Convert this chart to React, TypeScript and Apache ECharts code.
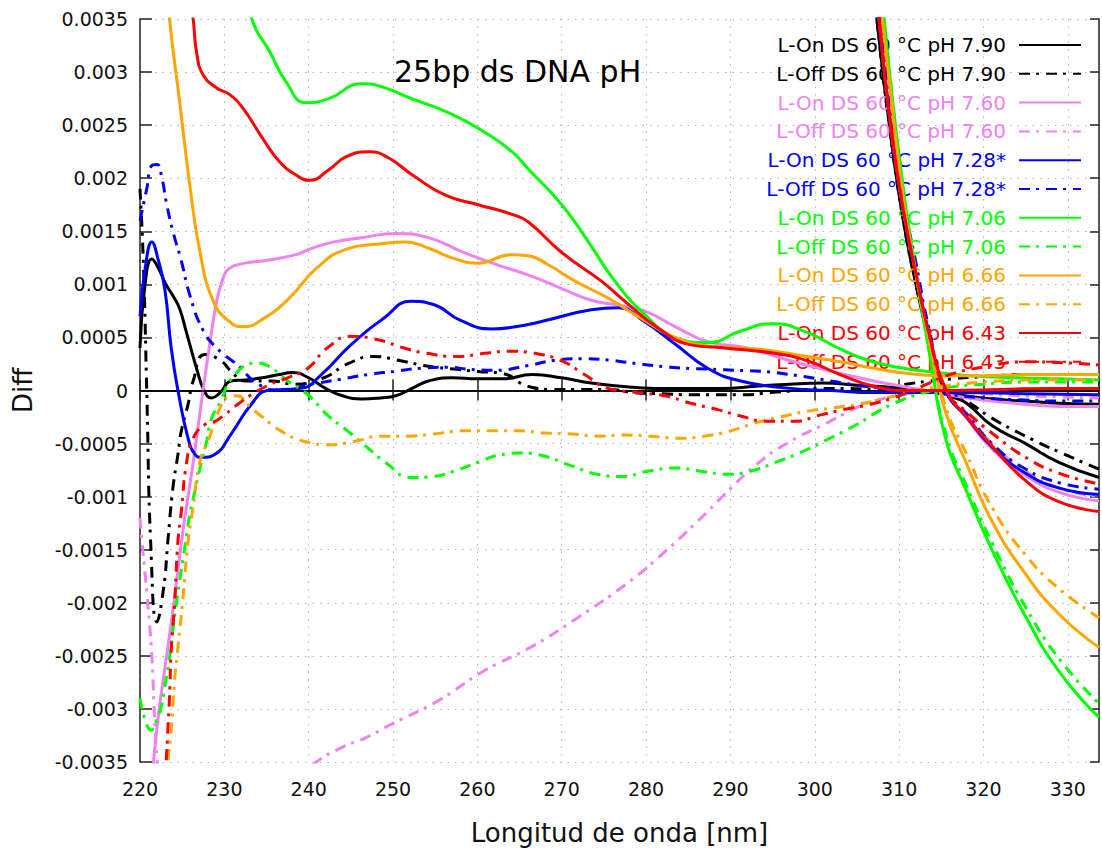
import React, { useEffect, useRef } from "react";
import * as echarts from "echarts";

// ---- Legend / series names ----
const seriesNames = [
  "L-On DS 60 °C pH 7.90",
  "L-Off DS 60 °C pH 7.90",
  "L-On DS 60 °C pH 7.60",
  "L-Off DS 60 °C pH 7.60",
  "L-On DS 60 °C pH 7.28*",
  "L-Off DS 60 °C pH 7.28*",
  "L-On DS 60 °C pH 7.06",
  "L-Off DS 60 °C pH 7.06",
  "L-On DS 60 °C pH 6.66",
  "L-Off DS 60 °C pH 6.66",
  "L-On DS 60 °C pH 6.43",
  "L-Off DS 60 °C pH 6.43",
];
const seriesColors = ["#000000", "#000000", "#ee82ee", "#ee82ee", "#0000ff", "#0000ff", "#00ff00", "#00ff00", "#ffa500", "#ffa500", "#ff0000", "#ff0000"];
const seriesDashed = [false, true, false, true, false, true, false, true, false, true, false, true];

// ---- Axis ticks ----
const xTicks = [220, 230, 240, 250, 260, 270, 280, 290, 300, 310, 320, 330];
const yTicks = [-0.0035, -0.003, -0.0025, -0.002, -0.0015, -0.001, -0.0005, 0, 0.0005, 0.001, 0.0015, 0.002, 0.0025, 0.003, 0.0035];

// ---- Main branches (wavelength nm, Diff) ----
const on790X = [220, 220.6, 221.4, 222.2, 223, 224, 224.7, 225.5, 226.7, 227.6, 228.5, 229.5, 230.8, 232.5, 234.5, 236.5, 238, 240, 242, 244, 246.3, 248.5, 250.3, 252.5, 254.2, 257, 260, 263, 266.5, 270, 273.5, 277, 281, 285, 289, 293, 297, 301, 305, 309, 313, 317, 321, 325, 329, 333.7];
const on790Y = [0.0004, 0.001, 0.00124, 0.00115, 0.00101, 0.00088, 0.00077, 0.00055, 0.00021, 0.0, -0.00007, -0.00002, 0.00009, 0.0001, 0.00012, 0.00015, 0.00017, 0.00012, 0.00002, -0.00005, -0.00008, -0.00007, -0.00005, 0.00003, 0.00009, 0.00012, 0.00011, 0.00011, 0.00015, 0.00012, 0.00007, 0.00004, 0.00002, 0.00002, 0.00002, 0.00004, 0.00006, 0.00007, 0.00005, 0.00003, 0.0, -0.00004, -0.00008, -0.0001, -0.00012, -0.00013];

const off790X = [220, 220.4, 220.8, 221.3, 222, 222.8, 223.3, 223.9, 224.5, 224.9, 225.7, 226.3, 227.7, 229.6, 230.8, 232.4, 235.5, 238.3, 241.8, 244.6, 247.7, 250.9, 254, 257.5, 260, 263, 266, 269, 272.3, 275.5, 278.6, 282, 285.3, 291.6, 294.7, 298, 301, 304, 307, 310, 315, 320, 325, 329, 333.7];
const off790Y = [0.0019, 0.0012, 0.0, -0.0015, -0.00218, -0.00186, -0.00142, -0.00092, -0.0006, -0.00038, -0.00013, 0.00009, 0.00034, 0.00028, 0.00018, 0.00009, 0.00009, 0.00006, 0.00012, 0.00025, 0.00032, 0.00028, 0.00023, 0.0002, 0.00018, 0.00016, 0.00004, 0.00001, 0.00001, 0.00001, -0.00002, -0.00003, -0.00004, -0.00004, -0.00002, 0.0, 0.00002, 0.00002, 0.00001, 0.00005, 0.0001, 0.00013, 0.00015, 0.00015, 0.00015];

const on760X = [220, 221, 221.6, 222.2, 223.3, 224.1, 225.1, 226.3, 227.3, 228.2, 229, 229.7, 230.6, 232.5, 234.5, 238.5, 240.4, 243, 246.3, 250.3, 254.2, 258.1, 262.1, 266, 270, 273.5, 277, 279.8, 283.5, 287.3, 292, 297.1, 302, 307, 311, 315, 320, 325, 329, 333.7];
const on760Y = [-0.005, -0.0041, -0.0035, -0.00305, -0.00242, -0.00195, -0.00132, -0.00068, -0.0001, 0.0004, 0.0008, 0.00102, 0.00115, 0.0012, 0.00122, 0.00128, 0.00134, 0.0014, 0.00144, 0.00148, 0.00144, 0.00131, 0.00119, 0.00109, 0.00096, 0.00085, 0.0008, 0.00075, 0.0006, 0.00046, 0.0004, 0.00028, 0.00018, 0.00009, 0.00003, -0.00003, -0.00009, -0.00013, -0.00015, -0.00015];

const off760X = [220, 220.2, 220.8, 221.4, 221.8, 222.2, 224, 230, 236, 240.9, 244, 246.8, 249.9, 255.4, 260.8, 266.3, 271.7, 277.7, 282.5, 287.3, 289.3, 293.2, 297.1, 301.1, 305, 307, 311, 315, 320, 325, 329, 333.7];
const off760Y = [-0.0012, -0.0014, -0.0019, -0.0025, -0.0032, -0.0036, -0.0046, -0.0048, -0.0038, -0.0035, -0.00336, -0.00327, -0.00314, -0.00292, -0.00264, -0.00242, -0.00215, -0.00182, -0.0015, -0.00114, -0.00098, -0.00069, -0.00048, -0.00032, -0.00016, -0.0001, -0.00003, 0.0, -0.00003, -0.00005, -0.00006, -0.00007];

const on728X = [220, 220.7, 221.4, 222.1, 222.95, 223.7, 224.5, 225.7, 226.5, 227.3, 228.9, 230.8, 233.2, 235.1, 237, 239.1, 241.5, 245, 248.9, 252.1, 254.8, 258, 261.7, 264.5, 267.6, 273.5, 276.7, 279.8, 283.4, 287.3, 291.2, 297.1, 302, 307, 312, 318, 325, 333.7];
const on728Y = [0.0007, 0.0012, 0.0014, 0.00125, 0.00095, 0.0004, 0.0, -0.00045, -0.0006, -0.00063, -0.0006, -0.00041, -0.00013, 0.0, 0.00001, 0.00002, 0.00015, 0.00043, 0.00068, 0.00084, 0.00081, 0.00066, 0.00058, 0.0006, 0.00065, 0.00076, 0.00078, 0.00065, 0.00044, 0.00021, 0.00009, 0.00002, 0.0, -0.00002, -0.00002, -0.00002, -0.00003, -0.00004];

const off728X = [220, 220.8, 221.4, 222, 222.6, 223.1, 223.9, 224.9, 225.9, 227.4, 229.1, 231.7, 234, 236.7, 240.3, 243.4, 247, 250.1, 253.3, 256.4, 259, 262, 265.7, 268.8, 272, 275.1, 278.2, 281.4, 284.5, 287.7, 291, 294, 297.1, 300.3, 303.4, 307, 311, 315, 320, 325, 329, 333.7];
const off728Y = [0.0016, 0.0019, 0.00212, 0.00213, 0.002, 0.00178, 0.0015, 0.00122, 0.0009, 0.00058, 0.0004, 0.00023, 0.00006, 0.0, 0.00006, 0.0001, 0.00015, 0.00018, 0.00021, 0.00022, 0.0002, 0.00019, 0.00023, 0.00028, 0.0003, 0.00029, 0.00026, 0.00023, 0.00021, 0.0002, 0.00019, 0.00018, 0.00015, 0.00011, 0.00007, 0.00003, 0.0, -0.00003, -0.00007, -0.00009, -0.0001, -0.0001];

const on706X = [229, 231, 233.4, 235.4, 237.3, 239.7, 242.4, 246.3, 248.7, 252.2, 256.2, 260.1, 264.1, 266, 270, 273, 276.3, 279.8, 283.4, 287.3, 291.2, 295, 299, 302.8, 306.5, 310.5, 314.5, 318.4, 324, 329, 333.7];
const on706Y = [0.0052, 0.0042, 0.00347, 0.00319, 0.00291, 0.00271, 0.00275, 0.00289, 0.00286, 0.00275, 0.00263, 0.00247, 0.00225, 0.00209, 0.00175, 0.00142, 0.00103, 0.00072, 0.0005, 0.00045, 0.00056, 0.00063, 0.00055, 0.0004, 0.00028, 0.00021, 0.00017, 0.00014, 0.00012, 0.00011, 0.0001];

const off706X = [220, 220.6, 221.3, 222, 222.4, 223, 223.5, 223.9, 224.3, 225.3, 225.9, 226.5, 227.3, 227.9, 228.5, 229.6, 230.4, 231.6, 232.4, 233.8, 235, 237.5, 239.9, 242.2, 244.6, 247, 249.3, 252.1, 254.8, 257.2, 260, 262.5, 265.3, 268, 271.2, 274.3, 277.1, 280.2, 283.4, 286.5, 289.7, 292.4, 295.6, 298.7, 301.8, 305, 307, 310, 313, 316, 320, 325, 329, 333.7];
const off706Y = [-0.0029, -0.0031, -0.0032, -0.0031, -0.00302, -0.00276, -0.00252, -0.00226, -0.00201, -0.00148, -0.00117, -0.00095, -0.00067, -0.00048, -0.00026, -0.0001, 0.00006, 0.00018, 0.00023, 0.00026, 0.00024, 0.00009, -0.00004, -0.00023, -0.00038, -0.00054, -0.00069, -0.00082, -0.00081, -0.00076, -0.00068, -0.00061, -0.00059, -0.00062, -0.00071, -0.00079, -0.00081, -0.00076, -0.00073, -0.00076, -0.00079, -0.00076, -0.00067, -0.00057, -0.00045, -0.00032, -0.00022, -0.0001, -0.00002, 0.00003, 0.00006, 0.00008, 0.00008, 0.00008];

const on666X = [221.5, 222.5, 223.5, 224.7, 225.9, 227.1, 228.7, 230.6, 232.2, 234.5, 237.7, 240.9, 244.4, 248.3, 251.5, 254.2, 257, 260.1, 264, 266, 268.5, 271.6, 275.5, 279.4, 283.4, 287.3, 293.2, 299.1, 303, 307, 311, 315, 320, 325, 329, 333.7];
const on666Y = [0.0055, 0.0044, 0.0035, 0.00272, 0.00194, 0.00131, 0.00084, 0.00065, 0.0006, 0.00067, 0.00087, 0.00115, 0.00133, 0.00138, 0.0014, 0.00134, 0.00125, 0.0012, 0.00128, 0.00127, 0.00118, 0.00103, 0.00087, 0.00068, 0.0005, 0.00042, 0.00039, 0.00032, 0.00027, 0.00021, 0.00016, 0.00014, 0.00014, 0.00015, 0.00015, 0.00015];

const off666X = [222.5, 223.3, 223.7, 224.1, 224.5, 225.1, 225.7, 226.3, 227.1, 228.2, 229.4, 230.5, 231.5, 233, 234.5, 236.7, 239.5, 242.6, 245.4, 248.5, 251.7, 254.8, 258.3, 262, 265, 268, 271.2, 274.3, 277.5, 280.6, 283.8, 286.9, 290, 293.2, 296.4, 299.5, 302.6, 305.8, 309, 312, 316, 320, 325, 329, 333.7];
const off666Y = [-0.0045, -0.0035, -0.0032, -0.00273, -0.00242, -0.00195, -0.00142, -0.0011, -0.00067, -0.00045, -0.00018, -0.00006, -0.00005, -0.00015, -0.00025, -0.00038, -0.00048, -0.00051, -0.00048, -0.00043, -0.00043, -0.00041, -0.00038, -0.00038, -0.00038, -0.0004, -0.00041, -0.00043, -0.00042, -0.00043, -0.00045, -0.00043, -0.00038, -0.0003, -0.00024, -0.00019, -0.00016, -0.00012, -0.00006, 0.0, 0.00005, 0.00008, 0.0001, 0.0001, 0.0001];

const on643X = [224, 225.3, 226.3, 226.7, 227.5, 229.1, 230.6, 232.2, 234.5, 236.5, 238.5, 240.1, 242.4, 244.4, 247.2, 249.5, 252.3, 256.2, 260.1, 264.1, 266, 270, 274.7, 277.5, 281.4, 285.3, 289.3, 295.2, 299.1, 303, 307, 311, 316, 322, 328, 333.7];
const on643Y = [0.0052, 0.004, 0.0035, 0.00319, 0.00297, 0.00285, 0.00279, 0.00266, 0.00238, 0.00216, 0.00203, 0.00198, 0.00208, 0.0022, 0.00225, 0.00219, 0.00203, 0.00184, 0.00175, 0.00166, 0.00159, 0.0013, 0.00103, 0.00084, 0.00059, 0.00043, 0.0004, 0.00035, 0.00028, 0.00015, 0.00004, 0.0, 0.0, 0.00001, 0.00002, 0.00002];

const off643X = [222.3, 223.1, 223.3, 223.5, 223.7, 224.1, 224.5, 224.9, 225.5, 226.3, 227.7, 228.9, 230, 231.6, 233.2, 235.5, 237.5, 239.9, 242.2, 245, 248.1, 251.3, 254, 257.5, 260.9, 263.7, 266.8, 270, 272.7, 275.5, 279, 282.2, 285.3, 288.5, 291.2, 294.4, 297.5, 300.7, 303.4, 306.6, 310, 313, 316, 320, 325, 330, 333.7];
const off643Y = [-0.0045, -0.0035, -0.0032, -0.00289, -0.00245, -0.00201, -0.00142, -0.00114, -0.00069, -0.00045, -0.00032, -0.00029, -0.00023, -0.00013, -0.00004, 0.00006, 0.00012, 0.00021, 0.0004, 0.00051, 0.00048, 0.0004, 0.00035, 0.00032, 0.00035, 0.00037, 0.00035, 0.00028, 0.00015, 0.00002, -0.00002, -0.00005, -0.00012, -0.00018, -0.00024, -0.00029, -0.00029, -0.00023, -0.00018, -0.00013, -0.00005, 0.00005, 0.00015, 0.00022, 0.00027, 0.00026, 0.00024];

// ---- Steep branches near the isosbestic point (~315 nm) ----
const steepX = [306.2, 307.5, 309, 310.5, 312, 313.5, 315.5, 318, 321, 325, 329, 333.7];
const steepOn790 = [0.0045, 0.0034, 0.0024, 0.0016, 0.001, 0.0005, 0.0, -0.00012, -0.00033, -0.0005, -0.00068, -0.00082];
const steepOff790 = [0.0045, 0.0034, 0.0024, 0.0016, 0.001, 0.0005, 0.0, -0.0001, -0.00026, -0.00043, -0.00058, -0.00074];
const steepOn760 = [0.0047, 0.0036, 0.0025, 0.0017, 0.0011, 0.00055, 0.0, -0.00026, -0.00055, -0.0008, -0.00096, -0.00104];
const steepOff760 = [0.0047, 0.0036, 0.0025, 0.0017, 0.0011, 0.00055, 0.0, -0.00022, -0.0005, -0.00076, -0.00092, -0.001];
const steepOn728 = [0.0047, 0.0036, 0.0025, 0.0017, 0.0011, 0.00055, 0.0, -0.00025, -0.00053, -0.00078, -0.00092, -0.00098];
const steepOff728 = [0.0048, 0.0037, 0.0026, 0.0018, 0.0012, 0.0006, 0.0, -0.00022, -0.0005, -0.00074, -0.00087, -0.00093];
const steepOn706 = [0.0052, 0.0041, 0.0029, 0.0019, 0.0011, 0.0004, -0.00045, -0.00095, -0.0015, -0.00213, -0.00265, -0.00308];
const steepOff706 = [0.0052, 0.0041, 0.0029, 0.0019, 0.0011, 0.0004, -0.0004, -0.0009, -0.00143, -0.00204, -0.00253, -0.00295];
const steepOn666 = [0.005, 0.0039, 0.0028, 0.0018, 0.0011, 0.0005, -0.0002, -0.00069, -0.00123, -0.00173, -0.00211, -0.00242];
const steepOff666 = [0.005, 0.0039, 0.0028, 0.0018, 0.0011, 0.0005, -0.00015, -0.0006, -0.0011, -0.00155, -0.00187, -0.00214];
const steepOn643 = [0.0047, 0.0036, 0.0025, 0.0017, 0.0011, 0.00055, 0.00002, -0.00025, -0.00052, -0.00085, -0.00105, -0.00114];
const steepOff643 = [0.0047, 0.0036, 0.0025, 0.0017, 0.0011, 0.00055, 0.0, -0.0002, -0.0004, -0.00063, -0.00078, -0.00088];

const mainX = [on790X, off790X, on760X, off760X, on728X, off728X, on706X, off706X, on666X, off666X, on643X, off643X];
const mainY = [on790Y, off790Y, on760Y, off760Y, on728Y, off728Y, on706Y, off706Y, on666Y, off666Y, on643Y, off643Y];
const steepY = [steepOn790, steepOff790, steepOn760, steepOff760, steepOn728, steepOff728, steepOn706, steepOff706, steepOn666, steepOff666, steepOn643, steepOff643];

const FONT = "DejaVu Sans";
const X_MIN = 220;
const X_MAX = 333.7;

function buildData(xs: number[], ys: number[], sx: number[], sy: number[]) {
  const d: any[] = xs.map((x, i) => [x, ys[i]]);
  d.push(["-", "-"]);
  sx.forEach((x, i) => d.push([x, sy[i]]));
  return d;
}

export default function App() {
  const ref = useRef<HTMLDivElement>(null);
  useEffect(() => {
    if (!ref.current) return;
    const chart = echarts.init(ref.current, undefined, { renderer: "svg" });
    const series: any[] = seriesNames.map((name, i) => ({
      name,
      type: "line",
      data: buildData(mainX[i], mainY[i], steepX, steepY[i]),
      smooth: 0.5,
      symbol: "none",
      showSymbol: false,
      connectNulls: false,
      clip: true,
      color: seriesColors[i],
      lineStyle: {
        color: seriesColors[i],
        width: 3,
        type: seriesDashed[i] ? [11, 6, 3, 7] : "solid",
      },
      emphasis: { disabled: true },
      z: 2 + i,
    }));
    series[0].markLine = {
      silent: true,
      symbol: "none",
      label: { show: false },
      lineStyle: { color: "#000", width: 1.5, type: "solid" },
      data: [{ yAxis: 0 }],
    };
    chart.setOption({
      animation: false,
      backgroundColor: "#ffffff",
      textStyle: { fontFamily: FONT },
      title: {
        text: "25bp ds DNA pH",
        left: 394,
        top: 56,
        padding: 0,
        textStyle: { fontFamily: FONT, fontSize: 30, fontWeight: "normal", color: "#000" },
      },
      legend: {
        orient: "vertical",
        align: "right",
        right: 20,
        top: 35,
        padding: 0,
        itemWidth: 62,
        itemHeight: 14,
        itemGap: 8.8,
        selectedMode: false,
        itemStyle: { opacity: 0 },
        textStyle: { fontFamily: FONT, fontSize: 20, lineHeight: 20, padding: [0, 8, 0, 0] },
        data: seriesNames.map((n, i) => ({ name: n, textStyle: { color: seriesColors[i] } })),
      },
      grid: { left: 140, top: 19, right: -1, bottom: 88, containLabel: false },
      xAxis: [
        {
          type: "value",
          min: X_MIN,
          max: X_MAX,
          interval: 10,
          position: "bottom",
          name: "Longitud de onda [nm]",
          nameLocation: "middle",
          nameGap: 58,
          nameTextStyle: { fontFamily: FONT, fontSize: 26, color: "#111" },
          axisLine: { show: true, lineStyle: { color: "#222", width: 1.5 } },
          axisTick: { show: true, inside: true, length: 11, lineStyle: { color: "#222", width: 1.5 } },
          axisLabel: {
            margin: 17,
            fontFamily: FONT,
            fontSize: 19,
            color: "#111",
            formatter: (v: number) => (xTicks.some((t) => Math.abs(t - v) < 1e-6) ? String(Math.round(v)) : ""),
          },
          splitLine: { show: true, lineStyle: { color: "#b4b4b4", width: 1, type: [1.5, 6] } },
        },
        {
          type: "value",
          min: X_MIN,
          max: X_MAX,
          interval: 10,
          position: "top",
          axisLine: { show: true, lineStyle: { color: "#222", width: 1.5 } },
          axisTick: { show: true, inside: true, length: 10, lineStyle: { color: "#222", width: 1.5 } },
          axisLabel: { show: false },
          splitLine: { show: false },
        },
      ],
      yAxis: [
        {
          type: "value",
          min: -0.0035,
          max: 0.0035,
          interval: 0.0005,
          position: "left",
          name: "Diff",
          nameLocation: "middle",
          nameRotate: 90,
          nameGap: 104,
          nameTextStyle: { fontFamily: FONT, fontSize: 26, color: "#111" },
          axisLine: { show: true, onZero: false, lineStyle: { color: "#222", width: 1.5 } },
          axisTick: { show: true, inside: true, length: 12, lineStyle: { color: "#222", width: 1.5 } },
          axisLabel: {
            margin: 12,
            fontFamily: FONT,
            fontSize: 19,
            color: "#111",
            formatter: (v: number) => {
              const t = yTicks.find((k) => Math.abs(k - v) < 1e-9);
              if (t === undefined) return "";
              return t === 0 ? "0" : String(t);
            },
          },
          splitLine: { show: true, lineStyle: { color: "#b4b4b4", width: 1, type: [1.5, 6] } },
        },
        {
          type: "value",
          min: -0.0035,
          max: 0.0035,
          interval: 0.0005,
          position: "right",
          axisLine: { show: true, onZero: false, lineStyle: { color: "#222", width: 1.5 } },
          axisTick: { show: true, inside: true, length: 9, lineStyle: { color: "#222", width: 1.5 } },
          axisLabel: { show: false },
          splitLine: { show: false },
        },
      ],
      series,
    });
    return () => chart.dispose();
  }, []);
  return <div ref={ref} style={{ position: "absolute", left: 0, top: 0, width: 1102, height: 851 }} />;
}
